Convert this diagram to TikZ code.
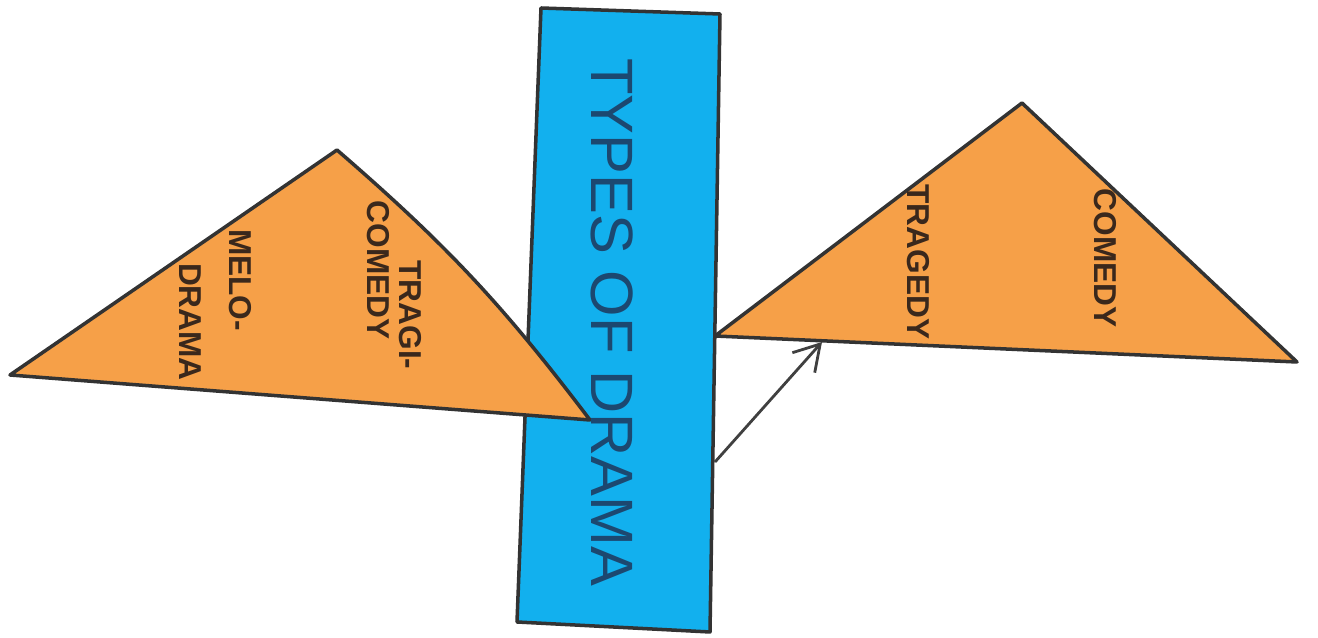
\documentclass[tikz,border=0pt]{standalone}
\usepackage{fontspec}
\setmainfont{Liberation Sans}
\usepackage{tikz}
\usetikzlibrary{arrows.meta,calc}

\definecolor{dramablue}{RGB}{18,176,238}
\definecolor{dramaorange}{RGB}{246,160,72}
\definecolor{inkblue}{RGB}{28,72,112}
\definecolor{inkbrown}{RGB}{58,40,28}

\begin{document}
\begin{tikzpicture}[
  outline/.style={draw=black!80, line width=1pt, line join=round},
  band/.style={outline, fill=dramablue},
  wing/.style={outline, fill=dramaorange},
  title/.style={rotate=-90, font=\fontsize{17}{20}\selectfont, text=inkblue, inner sep=0pt},
  kind/.style={rotate=-90, font=\fontsize{9}{11}\selectfont\bfseries, text=inkbrown, inner sep=0pt},
  flow/.style={-{Straight Barb[length=2.5mm,width=3mm]}, line width=0.8pt, draw=black!75}
]
\useasboundingbox (0,0) rectangle (13.18,6.38);

% Corner points
\coordinate (b1) at (5.41,6.30);
\coordinate (b2) at (7.20,6.24);
\coordinate (b3) at (7.10,0.06);
\coordinate (b4) at (5.17,0.16);
\coordinate (l1) at (0.10,2.63);
\coordinate (l2) at (3.37,4.88);
\coordinate (l3) at (5.90,2.18);
\coordinate (r1) at (7.15,3.02);
\coordinate (r2) at (10.22,5.35);
\coordinate (r3) at (12.97,2.76);

% Central band and the two wings
\draw[band] (b1) -- (b2) -- (b3) -- (b4) -- cycle;
\draw[wing] (l1) -- (l2) to[bend left=6] (l3) -- cycle;
\draw[wing] (r1) -- (r2) -- (r3) -- cycle;

% Title on the band
\node[title] (types) at (6.12,3.16) {TYPES OF DRAMA};

% Left wing labels
\node[kind] (tragi) at (4.10,3.23) {TRAGI-};
\node[kind] (comedyl) at (3.78,3.68) {COMEDY};
\node[kind] (melo) at (2.40,3.58) {MELO-};
\node[kind] (drama) at (1.90,3.16) {DRAMA};

% Right wing labels
\node[kind] (comedy) at (11.05,3.80) {COMEDY};
\node[kind] (tragedy) at (9.18,3.76) {TRAGEDY};

% Pointer from band to right wing
\coordinate (ptail) at (7.15,1.76);
\coordinate (phead) at (8.22,2.96);
\draw[flow] (ptail) -- (phead);

\end{tikzpicture}
\end{document}
